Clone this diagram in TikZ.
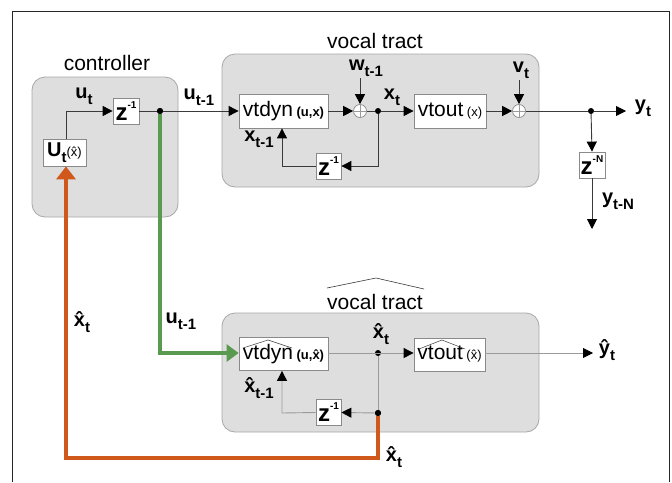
\documentclass[tikz,border=0pt]{standalone}
\usepackage{fontspec}
\setmainfont{Liberation Sans}
\usetikzlibrary{arrows.meta,calc}
\definecolor{grpfill}{HTML}{DEDEDE}
\definecolor{grpline}{HTML}{A8A8A8}
\definecolor{boxline}{HTML}{8A8A8A}
\definecolor{darkline}{HTML}{3A3A3A}
\definecolor{lightline}{HTML}{9A9A9A}
\definecolor{orangeline}{HTML}{D0581A}
\definecolor{greenline}{HTML}{5A9A50}
\newcommand\lbl[2]{{\bfseries\fontsize{20}{20}\selectfont #1\raisebox{-0.3em}{\fontsize{15}{15}\selectfont #2}}}
\newcommand\zbox[1]{{\bfseries\fontsize{24}{24}\selectfont z\raisebox{0.5em}{\fontsize{10}{10}\selectfont #1}}}
\newcommand\smtxt[1]{{\fontsize{13}{13}\selectfont #1}}
\begin{document}
\begin{tikzpicture}[x=1pt,y=-1pt,
  grp/.style={draw=grpline,fill=grpfill,rounded corners=13pt,line width=0.8pt},
  blk/.style={draw=boxline,fill=white,line width=0.8pt,inner sep=0pt,align=center},
  title/.style={font=\fontsize{21}{21}\selectfont,inner sep=0pt},
  lab/.style={inner sep=0pt},
  sumnode/.style={circle,draw=boxline,fill=white,minimum size=13pt,inner sep=0pt,line width=0.7pt},
  dotnode/.style={circle,fill=black,minimum size=6pt,inner sep=0pt},
  dk/.style={draw=darkline,line width=0.9pt},
  lt/.style={draw=lightline,line width=0.9pt},
  tip/.style={-{Triangle[length=10pt,width=10pt,color=black]}},
  thick orange/.style={draw=orangeline,line width=4pt},
  thick green/.style={draw=greenline,line width=4pt}]
\useasboundingbox (0,0) rectangle (672,482);
\fill[white] (0,0) rectangle (672,482);
% frame
\draw[black!85,line width=1pt] (12,482) -- (12,11) -- (669,11) -- (669,482);

% group boxes
\node[grp,minimum width=146pt,minimum height=140pt] (ctrl) at (105,147) {};
\node[title] (ctrlT) at (107,63) {controller};
\node[grp,minimum width=317pt,minimum height=133pt] (vt) at (380.5,120.5) {};
\node[title] (vtT) at (375,41) {vocal tract};
\node[grp,minimum width=317pt,minimum height=119pt] (vt2) at (380.5,372.5) {};
\node[title] (vt2T) at (375,302) {vocal tract};
\draw[darkline,line width=0.6pt] (327,288) -- (376,278) -- (424,289);

% controller
\node[blk,minimum width=43pt,minimum height=27pt] (U) at (64.5,152.5) {\lbl{U}{t}\smtxt{(\^{x})}};
\node[blk,minimum width=26pt,minimum height=26pt] (z1) at (126,111) {\zbox{-1}};
\node[dotnode] (d1) at (160,111) {};
\node[lab] (ut) at (84,96) {\lbl{u}{t}};
\node[lab] (ut1) at (199,97) {\lbl{u}{t-1}};
\coordinate (c1) at (66,111);
\draw[dk,tip] (U.north -| c1) -- (c1) -- (z1.west);

% upper vocal tract
\node[blk,minimum width=89pt,minimum height=34pt] (vd) at (283.5,111) {\fontsize{21}{21}\selectfont vtdyn\,{\bfseries\smtxt{(u,x)}}};
\node[sumnode] (s1) at (360,111) {};
\draw[lightline,line width=0.6pt] (s1.north) -- (s1.south) (s1.west) -- (s1.east);
\node[lab] (wl) at (366,68) {\lbl{w}{t-1}};
\coordinate (w1) at (360,78);
\node[dotnode] (d2) at (378,111) {};
\node[lab] (xt) at (392,97) {\lbl{x}{t}};
\node[blk,minimum width=72pt,minimum height=34pt] (vo) at (450,111) {\fontsize{21}{21}\selectfont vtout\,\smtxt{(x)}};
\node[sumnode] (s2) at (519,111) {};
\draw[lightline,line width=0.6pt] (s2.north) -- (s2.south) (s2.west) -- (s2.east);
\node[lab] (vl) at (521,70) {\lbl{v}{t}};
\coordinate (v1) at (519,80);
\node[dotnode] (d3) at (591,111) {};
\coordinate (yend) at (626,111);
\node[lab] (yt) at (643,108) {\lbl{y}{t}};
\node[blk,minimum width=26pt,minimum height=26pt] (zN) at (592,165) {\zbox{-N}};
\coordinate (yNend) at (592,229);
\node[lab] (ytN) at (618,201) {\lbl{y}{t-N}};
\node[blk,minimum width=25pt,minimum height=26pt] (zf) at (328.5,166) {\zbox{-1}};
\node[lab] (xt1) at (259,139) {\lbl{x}{t-1}};
\coordinate (fbR) at (378,166);
\coordinate (fbL) at (282,166);

\draw[dk,tip] (z1.east) -- (vd.west);
\draw[dk,tip] (vd.east) -- (s1.west);
\draw[dk,tip] (w1) -- (s1.north);
\draw[dk] (s1.east) -- (d2);
\draw[dk,tip] (d2) -- (vo.west);
\draw[dk,tip] (vo.east) -- (s2.west);
\draw[dk,tip] (v1) -- (s2.north);
\draw[dk] (s2.east) -- (d3);
\draw[dk,tip] (d3) -- (yend);
\draw[dk,tip] (d3) -- (zN.north);
\draw[dk,tip] (zN.south) -- (yNend);
\draw[dk,tip] (d2) -- (fbR) -- (zf.east);
\draw[dk,tip] (zf.west) -- (fbL) -- (fbL |- vd.south);

% lower vocal tract (model)
\node[blk,minimum width=89pt,minimum height=33pt] (vd2) at (283.5,354) {\fontsize{21}{21}\selectfont vtdyn\,{\bfseries\smtxt{(u,\^{x})}}};
\draw[darkline,line width=0.5pt] (243,348) -- (268,340) -- (292,348);
\node[dotnode] (e1) at (378,353) {};
\node[lab] (xh1) at (381,334) {\lbl{\^{x}}{t}};
\node[blk,minimum width=71pt,minimum height=33pt] (vo2) at (449.5,354.5) {\fontsize{21}{21}\selectfont vtout\,\smtxt{(\^{x})}};
\draw[darkline,line width=0.5pt] (419,349) -- (442,340) -- (465,349);
\coordinate (yhend) at (593,353);
\node[lab] (yh) at (607,350) {\lbl{\^{y}}{t}};
\node[dotnode] (e2) at (378,413) {};
\node[blk,minimum width=25pt,minimum height=26pt] (zf2) at (328.5,412.5) {\zbox{-1}};
\node[lab] (xh2) at (259,388) {\lbl{\^{x}}{t-1}};
\coordinate (fb2L) at (282,413);
\node[lab] (xh3) at (394,457) {\lbl{\^{x}}{t}};
\node[lab] (ut2) at (181,321) {\lbl{u}{t-1}};
\node[lab] (xh4) at (82,322) {\lbl{\^{x}}{t}};

\draw[lt,tip] (vd2.east |- e1) -- (vo2.west |- e1);
\draw[lt,tip] (vo2.east |- e1) -- (yhend);
\draw[lt] (e1) -- (e2);
\draw[lt,tip] (e2) -- (zf2.east);
\draw[lt,tip] (zf2.west) -- (fb2L) -- (fb2L |- vd2.south);

% thick feedback paths
\coordinate (og1) at (378,458);
\coordinate (og2) at (66,458);
\draw[thick orange,-{Triangle[length=13pt,width=19pt]}] (e2) -- (og1) -- (og2) -- (U.south -| og2);
\coordinate (gr1) at (160,353);
\draw[thick green,-{Triangle[length=12pt,width=17pt]}] (d1) -- (gr1) -- (vd2.west |- gr1);
\node[dotnode] at (d1) {};
\node[dotnode] at (e2) {};
\end{tikzpicture}
\end{document}
